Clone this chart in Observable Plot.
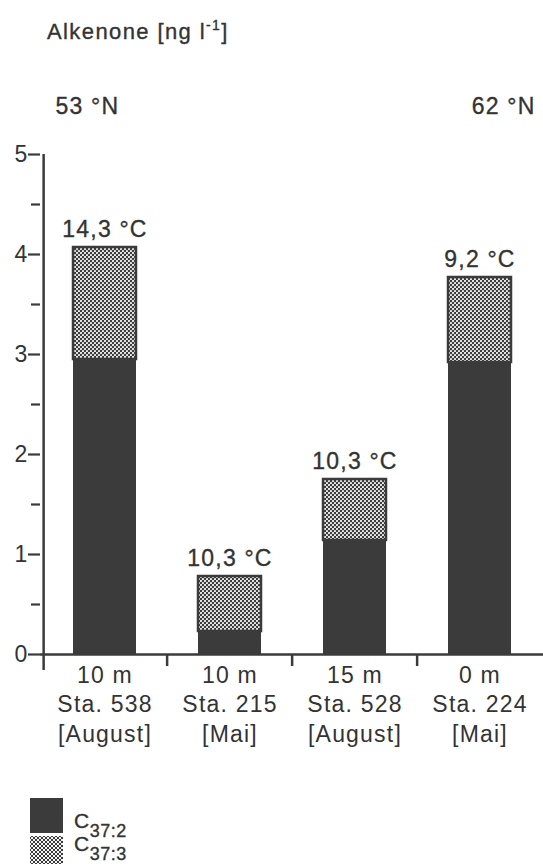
<!DOCTYPE html>
<html>
<head>
<meta charset="utf-8">
<script src="https://cdn.jsdelivr.net/npm/d3@7"></script>
<script src="https://cdn.jsdelivr.net/npm/@observablehq/plot@0.6"></script>
<style>
  html, body { margin: 0; padding: 0; background: #fff; }
  body { width: 543px; height: 864px; position: relative; overflow: hidden;
         font-family: "Liberation Sans", Arial, Helvetica, sans-serif; color: #333; }
  .abs { position: absolute; white-space: nowrap; letter-spacing: 1.2px; -webkit-text-stroke: 0.35px #333; }
  .swatch { position: absolute; left: 30px; width: 33px; height: 35px; background-color: #3b3b3b; }
  .dots {
    background-image:
      radial-gradient(circle, #f4f4f4 1.0px, transparent 1.5px),
      radial-gradient(circle, #f4f4f4 1.0px, transparent 1.5px);
    background-size: 4px 4px, 4px 4px;
    background-position: 0 0, 2px 2px;
  }
</style>
</head>
<body>
<div class="abs" style="left:47px; top:21px; font-size:22px; line-height:22px; letter-spacing:1.4px;">Alkenone [ng l<span style="font-size:14px; position:relative; top:-9px;">-1</span>]</div>
<div id="chart" style="position:absolute; left:0; top:60px;"></div>

<div class="swatch" style="top:798px;"></div>
<div class="swatch dots" style="top:836px;"></div>
<div class="abs" style="left:74px; top:810px; font-size:21px; line-height:21px; letter-spacing:0.5px;">C<span style="font-size:18px; position:relative; top:9px;">37:2</span></div>
<div class="abs" style="left:74px; top:833px; font-size:21px; line-height:21px; letter-spacing:0.5px;">C<span style="font-size:18px; position:relative; top:9px;">37:3</span></div>

<script>
// Stations (sampling depth, station number, month) and alkenone concentrations in ng/l
const stations = ["538", "215", "528", "224"];
const depths = ["10 m", "10 m", "15 m", "0 m"];
const stationLabels = ["Sta. 538", "Sta. 215", "Sta. 528", "Sta. 224"];
const months = ["[August]", "[Mai]", "[August]", "[Mai]"];
const c37_2 = [2.95, 0.23, 1.14, 2.92];
const c37_3 = [1.12, 0.55, 0.61, 0.85];
const temperatures = ["14,3 °C", "10,3 °C", "10,3 °C", "9,2 °C"];
const latitudes = ["53 °N", "62 °N"];
const yTicks = [0, 1, 2, 3, 4, 5];
const yMinorTicks = [0.5, 1.5, 2.5, 3.5, 4.5];

const rows = stations.map((s, i) => ({
  station: s,
  c372: c37_2[i],
  c373: c37_3[i],
  total: c37_2[i] + c37_3[i],
  temp: temperatures[i],
  label: `${depths[i]}\n${stationLabels[i]}\n${months[i]}`
}));

const ink = "#3b3b3b";
const textInk = "#333";
const width = 543, marginLeft = 40, marginRight = 0;
const paddingInner = 0.5, paddingOuter = 0.25;
const step = (width - marginLeft - marginRight) / (stations.length - paddingInner + 2 * paddingOuter);
const half = step / 2; // offset from band centre to band boundary
const textStyle = { fontSize: 23, fill: textInk, stroke: textInk, strokeWidth: 0.35 };

const chart = Plot.plot({
  width,
  height: 700,
  marginTop: 94,
  marginBottom: 106,
  marginLeft,
  marginRight,
  style: { fontFamily: "'Liberation Sans', Arial, Helvetica, sans-serif", letterSpacing: "1.2px", color: textInk, background: "#fff" },
  x: { domain: stations, paddingInner, paddingOuter, label: null },
  y: { domain: [0, 5], label: null },
  marks: [
    // stacked bars: C37:2 below, C37:3 above
    Plot.barY(rows, { x: "station", y1: 0, y2: "c372", fill: ink }),
    Plot.barY(rows, { x: "station", y1: "c372", y2: "total", fill: "url(#halftone)", stroke: ink, strokeWidth: 2.5 }),
    // temperatures above bars
    Plot.text(rows, { x: "station", y: "total", text: "temp", dy: -11, lineAnchor: "bottom", ...textStyle }),
    // latitude notes
    Plot.text([latitudes[0]], { frameAnchor: "top-left", dx: 15, dy: -41, lineAnchor: "bottom", textAnchor: "start", ...textStyle }),
    Plot.text([latitudes[1]], { frameAnchor: "top-right", dx: -8, dy: -41, lineAnchor: "bottom", textAnchor: "end", ...textStyle }),
    // y axis: labelled integer ticks, unlabelled half-unit ticks, and the axis line
    Plot.axisY({ ticks: yTicks, tickFormat: d => String(d), fontSize: 23, fill: textInk,
                 tickSize: 12, tickPadding: 0, stroke: ink, strokeWidth: 2.2 }),
    Plot.axisY({ ticks: yMinorTicks, tickSize: 9, tickFormat: () => "", stroke: ink, strokeWidth: 2.2 }),
    Plot.ruleX([stations[0]], { x: d => d, y1: 5, y2: 0, dx: -half + 1.5, insetBottom: -16, stroke: ink, strokeWidth: 2.5 }),
    // x axis: baseline, boundary ticks, multi-line labels
    Plot.ruleY([0], { stroke: ink, strokeWidth: 2.5 }),
    Plot.ruleX(stations.slice(1), { x: d => d, y1: 0, y2: 0, dx: -half, insetBottom: -12, stroke: ink, strokeWidth: 2.5 }),
    Plot.axisX({ ...textStyle, tickSize: 0, tickPadding: 8, lineHeight: 1.27, label: null,
                 tickFormat: d => rows[stations.indexOf(d)].label })
  ]
});

// halftone pattern for the C37:3 segments
const defs = d3.select(chart).insert("defs", ":first-child");
const pat = defs.append("pattern")
  .attr("id", "halftone")
  .attr("patternUnits", "userSpaceOnUse")
  .attr("width", 4).attr("height", 4);
pat.append("rect").attr("width", 4).attr("height", 4).attr("fill", ink);
pat.append("circle").attr("cx", 1).attr("cy", 1).attr("r", 1.1).attr("fill", "#f4f4f4");
pat.append("circle").attr("cx", 3).attr("cy", 3).attr("r", 1.1).attr("fill", "#f4f4f4");

document.getElementById("chart").appendChild(chart);
</script>
</body>
</html>
